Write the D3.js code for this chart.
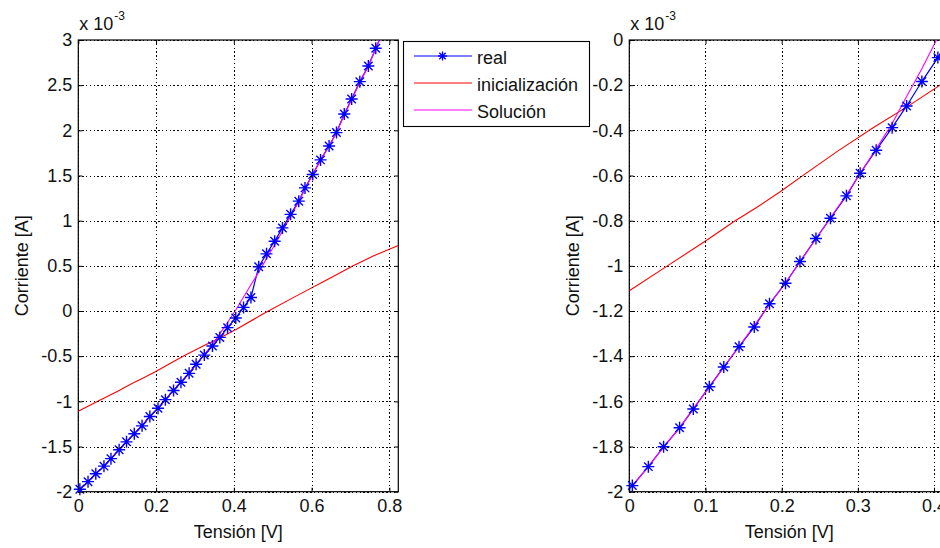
<!DOCTYPE html>
<html>
<head>
<meta charset="utf-8">
<script src="https://cdn.jsdelivr.net/npm/d3@7"></script>
<style>
  html, body { margin: 0; padding: 0; background: #fff; }
  svg { display: block; }
  text { font-family: "Liberation Sans", Arial, sans-serif; fill: #111; }
</style>
</head>
<body>
<svg id="chart" width="940" height="548"></svg>
<script>
// I–V characteristic: voltage in volts, current in units of 1e-3 A
const voltage = [
  0.004, 0.025, 0.045, 0.066, 0.084, 0.105, 0.124, 0.144, 0.164, 0.184,
  0.205, 0.224, 0.245, 0.264, 0.285, 0.303, 0.324, 0.345, 0.364, 0.384,
  0.405, 0.425, 0.444, 0.464, 0.484, 0.505, 0.525, 0.546, 0.567, 0.583,
  0.603, 0.623, 0.645, 0.664, 0.684, 0.703, 0.724, 0.746, 0.765, 0.785
];
const currentReal = [
  -1.973, -1.889, -1.801, -1.717, -1.634, -1.535, -1.448, -1.358, -1.271, -1.168,
  -1.077, -0.981, -0.879, -0.789, -0.690, -0.590, -0.488, -0.388, -0.292, -0.184,
  -0.078, 0.040, 0.150, 0.490, 0.633, 0.773, 0.920, 1.070, 1.216, 1.363,
  1.512, 1.673, 1.827, 1.975, 2.181, 2.347, 2.539, 2.712, 2.908, 3.110
];
const currentSolution = [
  -1.975, -1.889, -1.803, -1.716, -1.632, -1.537, -1.449, -1.357, -1.265, -1.170,
  -1.075, -0.982, -0.880, -0.787, -0.686, -0.590, -0.482, -0.370, -0.250, -0.127,
  0.012, 0.156, 0.290, 0.430, 0.580, 0.730, 0.885, 1.050, 1.210, 1.350,
  1.510, 1.673, 1.827, 1.975, 2.170, 2.340, 2.530, 2.710, 2.905, 3.110
];
// Initial guess curve
const initVoltage = [0, 0.05, 0.10, 0.137, 0.167, 0.198, 0.229, 0.273, 0.321, 0.365,
  0.409, 0.484, 0.56, 0.63, 0.707, 0.76, 0.823];
const initCurrent = [-1.11, -1.0, -0.89, -0.805, -0.742, -0.672, -0.597, -0.493, -0.386, -0.295,
  -0.197, -0.01, 0.165, 0.325, 0.5, 0.612, 0.725];

const seriesNames = ["real", "inicialización", "Solución"];
const seriesColors = ["#0000ff", "#ff0000", "#ff00ff"];

const leftXTicks = [0, 0.2, 0.4, 0.6, 0.8];
const leftXLabels = ["0", "0.2", "0.4", "0.6", "0.8"];
const leftYTicks = [-2, -1.5, -1, -0.5, 0, 0.5, 1, 1.5, 2, 2.5, 3];
const leftYLabels = ["-2", "-1.5", "-1", "-0.5", "0", "0.5", "1", "1.5", "2", "2.5", "3"];
const rightXTicks = [0, 0.1, 0.2, 0.3, 0.4];
const rightXLabels = ["0", "0.1", "0.2", "0.3", "0.4"];
const rightYTicks = [-2, -1.8, -1.6, -1.4, -1.2, -1, -0.8, -0.6, -0.4, -0.2, 0];
const rightYLabels = ["-2", "-1.8", "-1.6", "-1.4", "-1.2", "-1", "-0.8", "-0.6", "-0.4", "-0.2", "0"];

const xLabel = "Tensión [V]";
const yLabel = "Corriente [A]";
const exponentBase = "x 10";
const exponentPower = "-3";

const realPoints = voltage.map((v, i) => [v, currentReal[i]]);
const solutionPoints = voltage.map((v, i) => [v, currentSolution[i]]);
const initPoints = initVoltage.map((v, i) => [v, initCurrent[i]]);

const panels = [
  { left: 78.3, top: 40, width: 320, height: 451.7, xMax: 0.823, yDomain: [-2, 3],
    xTicks: leftXTicks, xLabels: leftXLabels, yTicks: leftYTicks, yLabels: leftYLabels, legend: true },
  { left: 629.3, top: 40, width: 320, height: 451.7, xMax: 0.42, yDomain: [-2, 0],
    xTicks: rightXTicks, xLabels: rightXLabels, yTicks: rightYTicks, yLabels: rightYLabels, legend: false }
];

const FONT = 18;
const TICK = 4;
const MARK_R = 6;

function asteriskPath(r) {
  const d = r * Math.SQRT1_2;
  return `M${-r},0L${r},0M0,${-r}L0,${r}M${-d},${-d}L${d},${d}M${-d},${d}L${d},${-d}`;
}

// snap a coordinate to the pixel grid so 1px lines stay crisp
const crisp = v => Math.round(v) + 0.5;

const svg = d3.select("#chart");
const defs = svg.append("defs");

panels.forEach((p, pi) => {
  const x = d3.scaleLinear().domain([0, p.xMax]).range([0, p.width]);
  const y = d3.scaleLinear().domain(p.yDomain).range([p.height, 0]);
  const g = svg.append("g").attr("transform", `translate(${p.left},${p.top})`);
  const ox = p.left, oy = p.top;

  const clipId = "plot-clip-" + pi;
  defs.append("clipPath").attr("id", clipId)
    .append("rect").attr("x", 0).attr("y", 0).attr("width", p.width).attr("height", p.height);

  // dotted grid, drawn in page coordinates on whole pixels
  const grid = svg.append("g").attr("stroke", "#000").attr("stroke-width", 1)
    .attr("stroke-dasharray", "1.4,2.4").attr("shape-rendering", "crispEdges");
  grid.selectAll("line.gx").data(p.xTicks).join("line")
    .attr("class", "gx")
    .attr("x1", d => crisp(ox + x(d))).attr("x2", d => crisp(ox + x(d)))
    .attr("y1", oy).attr("y2", oy + p.height);
  grid.selectAll("line.gy").data(p.yTicks).join("line")
    .attr("class", "gy")
    .attr("x1", ox).attr("x2", ox + p.width)
    .attr("y1", d => crisp(oy + y(d))).attr("y2", d => crisp(oy + y(d)));

  // axes with inward ticks on all four sides
  const styleAxis = sel => {
    sel.attr("color", "#000");
    sel.select(".domain").remove();
    sel.selectAll("text").attr("font-size", FONT).attr("font-family", null).attr("fill", "#111");
  };
  g.append("g").attr("transform", `translate(0,${p.height})`)
    .call(d3.axisBottom(x).tickValues(p.xTicks).tickFormat((d, i) => p.xLabels[i])
      .tickSizeInner(-TICK).tickSizeOuter(0).tickPadding(8))
    .call(styleAxis);
  g.append("g")
    .call(d3.axisTop(x).tickValues(p.xTicks).tickFormat("")
      .tickSizeInner(-TICK).tickSizeOuter(0))
    .call(styleAxis);
  g.append("g")
    .call(d3.axisLeft(y).tickValues(p.yTicks).tickFormat((d, i) => p.yLabels[i])
      .tickSizeInner(-TICK).tickSizeOuter(0).tickPadding(6))
    .call(styleAxis);
  g.append("g").attr("transform", `translate(${p.width},0)`)
    .call(d3.axisRight(y).tickValues(p.yTicks).tickFormat("")
      .tickSizeInner(-TICK).tickSizeOuter(0))
    .call(styleAxis);

  // axes box
  g.append("rect").attr("x", 0).attr("y", 0).attr("width", p.width).attr("height", p.height)
    .attr("fill", "none").attr("stroke", "#000").attr("stroke-width", 1.2);

  // exponent label
  const exp = g.append("text").attr("x", 1).attr("y", -10).attr("font-size", FONT);
  exp.append("tspan").text(exponentBase);
  exp.append("tspan").attr("font-size", 12).attr("dy", -10.5).attr("dx", 1).text(exponentPower);

  // axis titles
  g.append("text").attr("x", p.width / 2).attr("y", 498)
    .attr("text-anchor", "middle").attr("font-size", FONT).text(xLabel);
  g.append("text")
    .attr("transform", `translate(-50,${p.height / 2}) rotate(-90)`)
    .attr("text-anchor", "middle").attr("font-size", FONT).text(yLabel);

  // data
  const line = d3.line().x(d => x(d[0])).y(d => y(d[1]));
  const plot = g.append("g").attr("clip-path", `url(#${clipId})`);
  plot.append("path").datum(realPoints).attr("d", line)
    .attr("fill", "none").attr("stroke", seriesColors[0]).attr("stroke-width", 1.2);

  const [y0, y1] = p.yDomain;
  const inside = realPoints.filter(d => d[0] >= 0 && d[0] <= p.xMax && d[1] >= y0 && d[1] <= y1);
  g.append("g").selectAll("path").data(inside).join("path")
    .attr("transform", d => `translate(${x(d[0])},${y(d[1])})`)
    .attr("d", asteriskPath(MARK_R))
    .attr("fill", "none").attr("stroke", seriesColors[0]).attr("stroke-width", 1.4);

  plot.append("path").datum(initPoints).attr("d", line)
    .attr("fill", "none").attr("stroke", seriesColors[1]).attr("stroke-width", 1.1);
  plot.append("path").datum(solutionPoints).attr("d", line)
    .attr("fill", "none").attr("stroke", seriesColors[2]).attr("stroke-width", 1.1);

  // legend
  if (p.legend) {
    const lg = svg.append("g").attr("transform", "translate(403.5,41.5)");
    lg.append("rect").attr("width", 186).attr("height", 85)
      .attr("fill", "#fff").attr("stroke", "#000").attr("stroke-width", 1.1);
    seriesNames.forEach((name, i) => {
      const ly = 14.5 + i * 27;
      lg.append("line").attr("x1", 10.5).attr("x2", 68.5).attr("y1", ly).attr("y2", ly)
        .attr("stroke", seriesColors[i]).attr("stroke-width", 1.1);
      if (i === 0) {
        lg.append("path").attr("transform", `translate(39,${ly})`)
          .attr("d", asteriskPath(MARK_R - 1.5)).attr("fill", "none")
          .attr("stroke", seriesColors[0]).attr("stroke-width", 1.3);
      }
      lg.append("text").attr("x", 73.5).attr("y", ly + 7.5)
        .attr("font-size", FONT).text(name);
    });
  }
});
</script>
</body>
</html>
